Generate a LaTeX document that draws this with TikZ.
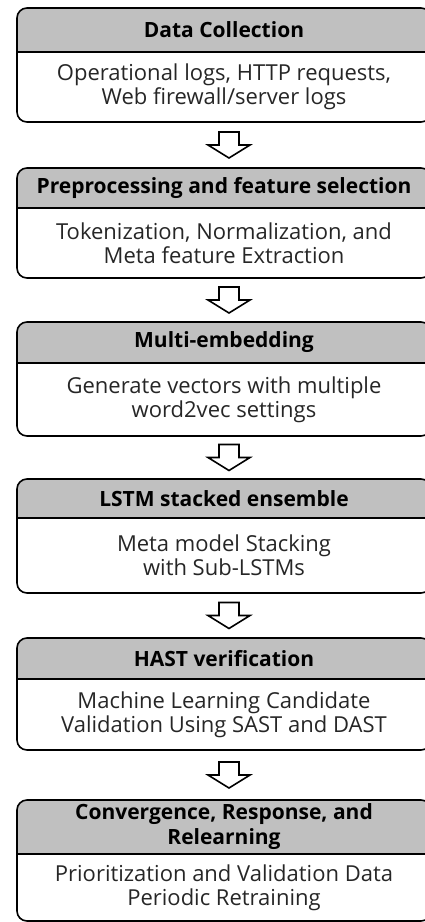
\documentclass[tikz,border=0pt]{standalone}
\usepackage{fontspec}
\setmainfont{Open Sans}
\usetikzlibrary{positioning,calc,backgrounds}
\definecolor{headgrey}{RGB}{192,192,192}
\begin{document}
\begin{tikzpicture}[x=1pt, y=1pt,
		head/.style={minimum width=414pt, inner sep=0pt, outer sep=0pt, align=center, anchor=north,
			font=\fontsize{21}{25}\selectfont\bfseries},
		body/.style={minimum width=414pt, inner sep=0pt, outer sep=0pt, align=center,
			font=\fontsize{22}{24}\selectfont, text=black!85},
		blockarrow/.style={draw, line width=1.6pt, fill=white, line join=miter}]
	\useasboundingbox (0,0) rectangle (425,-922);
	\node[head, minimum height=44pt] (h1) at (224,-8) {Data Collection};
	\node[body, minimum height=70pt, below=0pt of h1] (b1) {Operational logs, HTTP requests,\\Web firewall/server logs};
	\node[head, minimum height=40pt] (h2) at (224,-168) {Preprocessing and feature selection};
	\node[body, minimum height=70pt, below=0pt of h2] (b2) {Tokenization, Normalization, and\\Meta feature Extraction};
	\node[head, minimum height=41pt] (h3) at (224,-322) {Multi-embedding};
	\node[body, minimum height=73pt, below=0pt of h3] (b3) {Generate vectors with multiple\\word2vec settings};
	\node[head, minimum height=39pt] (h4) at (224,-479) {LSTM stacked ensemble};
	\node[body, minimum height=75pt, below=0pt of h4] (b4) {Meta model Stacking\\with Sub-LSTMs};
	\node[head, minimum height=41pt] (h5) at (224,-638) {HAST verification};
	\node[body, minimum height=71pt, below=0pt of h5] (b5) {Machine Learning Candidate\\Validation Using SAST and DAST};
	\node[head, minimum height=54pt] (h6) at (224,-800) {Convergence, Response, and\\Relearning};
	\node[body, minimum height=67pt, below=0pt of h6] (b6) {Prioritization and Validation Data\\Periodic Retraining};
	% boxes: grey header, white body, rounded outline
	\begin{scope}[on background layer]
	\foreach \i in {1,...,6} {
		\begin{scope}
			\clip[rounded corners=10pt] (b\i.south west) rectangle (h\i.north east);
			\fill[headgrey] (h\i.south west) rectangle (h\i.north east);
		\end{scope}
		\draw[line width=1.6pt, rounded corners=10pt] (b\i.south west) rectangle (h\i.north east);
		\draw[line width=1.6pt] (h\i.south west) -- (h\i.south east);
	}
	\end{scope}
	% hollow arrows between stages
	\foreach \a/\b/\n in {b1/h2/1, b2/h3/2, b3/h4/3, b4/h5/4, b5/h6/5} {
		\coordinate (arrow\n) at ($(\a.south)!.5!(\b.north)+(5,0)$);
		\draw[blockarrow] (arrow\n) ++(-10,13) -- ++(20,0) -- ++(0,-13) -- ++(11,0) -- ++(-21,-13)
			-- ++(-21,13) -- ++(11,0) -- cycle;
	}
\end{tikzpicture}
\end{document}
